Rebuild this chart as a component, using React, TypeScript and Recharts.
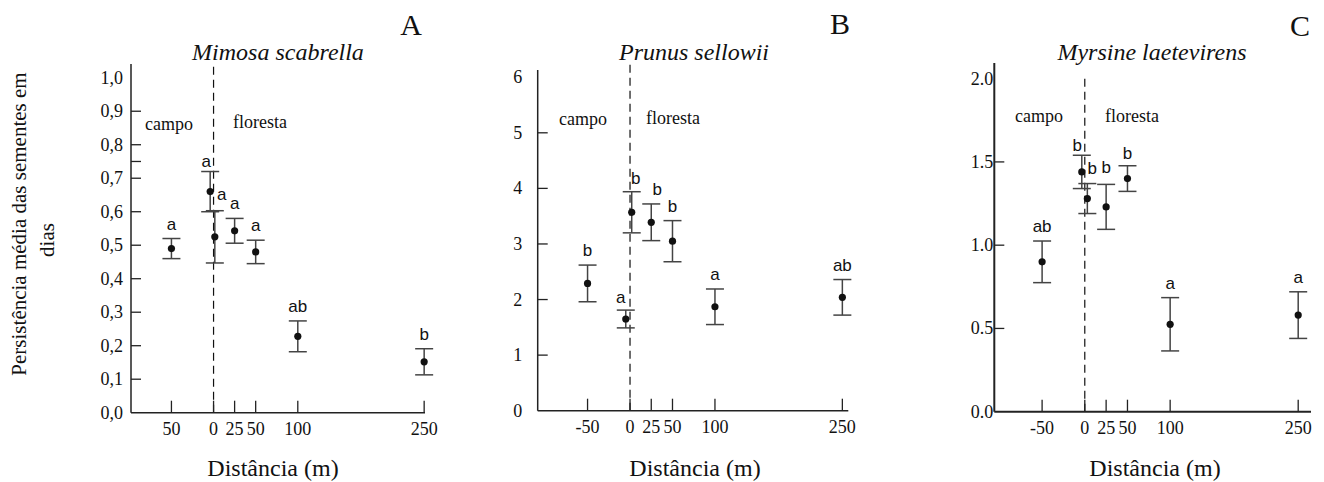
import React from 'react';
import { ScatterChart, Scatter, XAxis, YAxis, ErrorBar, ReferenceLine } from 'recharts';

const SERIF = '"Liberation Serif", "Times New Roman", serif';
const SANS = '"Liberation Sans", Arial, sans-serif';

// distância à borda (m): negativo = campo, positivo = floresta
const distA = [-50, -4, 1.5, 25, 50, 100, 250];
const meanA = [0.49, 0.66, 0.525, 0.543, 0.48, 0.228, 0.152];
const errA = [0.03, 0.06, 0.078, 0.037, 0.035, 0.046, 0.039];
const lettersA = ['a', 'a', 'a', 'a', 'a', 'ab', 'b'];

const distB = [-50, -5, 2, 25, 50, 100, 250];
const meanB = [2.29, 1.65, 3.57, 3.39, 3.05, 1.87, 2.04];
const errB = [0.33, 0.16, 0.37, 0.33, 0.37, 0.32, 0.32];
const lettersB = ['b', 'a', 'b', 'b', 'b', 'a', 'ab'];

const distC = [-50, -3.5, 3, 25, 50, 100, 250];
const meanC = [0.9, 1.44, 1.28, 1.23, 1.4, 0.525, 0.58];
const errC = [0.125, 0.1, 0.09, 0.135, 0.077, 0.16, 0.14];
const lettersC = ['ab', 'b', 'b', 'b', 'b', 'a', 'a'];

const xTicks = [-50, 0, 25, 50, 100, 250];
const yTicksA = [0, 0.1, 0.2, 0.3, 0.4, 0.5, 0.6, 0.7, 0.75, 0.8, 0.9, 1.0];
const yTicksB = [0, 1, 2, 3, 4, 5, 6];
const yTicksC = [0, 0.5, 1.0, 1.5, 2.0];

const titles = ['Mimosa scabrella', 'Prunus sellowii', 'Myrsine laetevirens'];
const panelLetters = ['A', 'B', 'C'];

const YW = 40; // largura reservada do eixo y
const XH = 30; // altura reservada do eixo x

const panels = [
  {
    left: 0, width: 440, plot: { top: 64, right: 425, bottom: 412.7, left: 131 },
    xDomain: [-98, 251], yDomain: [0, 1.041], dashTop: 1.038,
    dist: distA, mean: meanA, err: errA, letters: lettersA, yTicks: yTicksA,
    fmtX: (v: number) => String(Math.abs(v)),
    fmtY: (v: number) => (v === 0.75 ? '' : v.toFixed(1).replace('.', ',')),
    yAnchor: 'end', yDx: -8, axisW: 1.5,
    nudge: { 1: [-4, 4], 2: [7, -2] } as Record<number, number[]>,
  },
  {
    left: 440, width: 440, plot: { top: 70, right: 848.3, bottom: 410.7, left: 537.7 },
    xDomain: [-108.7, 257], yDomain: [0, 6.13], dashTop: 6.25,
    dist: distB, mean: meanB, err: errB, letters: lettersB, yTicks: yTicksB,
    fmtX: (v: number) => String(v),
    fmtY: (v: number) => String(v),
    yAnchor: 'middle', yDx: -20, axisW: 1.5,
    nudge: { 1: [-5, 2], 2: [4, 1], 3: [6, 0] } as Record<number, number[]>,
  },
  {
    left: 880, width: 444, plot: { top: 63, right: 1311, bottom: 411.7, left: 994.3 },
    xDomain: [-106, 265], yDomain: [0, 2.094], dashTop: 2.016,
    dist: distC, mean: meanC, err: errC, letters: lettersC, yTicks: yTicksC,
    fmtX: (v: number) => String(v),
    fmtY: (v: number) => v.toFixed(1),
    yAnchor: 'end', yDx: -1, axisW: 2,
    nudge: { 1: [-4.5, 5], 2: [5, -1], 3: [0, -2], 4: [0, 2] } as Record<number, number[]>,
  },
];

// texto sobreposto: letra do painel, título, campo/floresta, rótulo do eixo x
const overlay = [
  { letter: [411, 35], title: [278, 60], campo: [169, 130], floresta: [260, 128], xlab: [273, 476] },
  { letter: [840, 34], title: [694, 60], campo: [583, 125], floresta: [673, 124], xlab: [695, 476] },
  { letter: [1300, 36], title: [1152, 60], campo: [1039, 122], floresta: [1132, 122], xlab: [1155, 476] },
];

function Panel({ p }: { p: any }) {
  const pts = p.dist.map((d: number, i: number) => ({ x: d, y: p.mean[i], err: p.err[i] }));
  const tops = p.dist.map((d: number, i: number) => ({ x: d, y: p.mean[i] + p.err[i], letter: p.letters[i], i }));
  const yMax = p.yTicks[p.yTicks.length - 1];
  const margin = {
    top: p.plot.top,
    left: p.plot.left - p.left - YW,
    right: p.left + p.width - p.plot.right,
    bottom: 482 - p.plot.bottom - XH,
  };

  const xTick = (props: any) => {
    const { x, y, payload } = props;
    return (
      <g>
        <line x1={x} x2={x} y1={y} y2={y - 12} stroke="#222" strokeWidth={1.3} />
        <text x={x} y={y + 22} textAnchor="middle" fontFamily={SERIF} fontSize={18} fill="#111">
          {p.fmtX(payload.value)}
        </text>
      </g>
    );
  };

  const yTick = (props: any) => {
    const { x, y, payload } = props;
    const v = payload.value;
    const mark = v !== 0 && v !== yMax;
    return (
      <g>
        {mark && <line x1={x} x2={x + 10} y1={y} y2={y} stroke="#222" strokeWidth={1.3} />}
        <text x={x + p.yDx} y={y + 6} textAnchor={p.yAnchor} fontFamily={SERIF} fontSize={18} fill="#111">
          {p.fmtY(v)}
        </text>
      </g>
    );
  };

  return (
    <div style={{ position: 'absolute', left: p.left, top: 0 }}>
      <ScatterChart width={p.width} height={482} margin={margin}>
        <XAxis
          type="number" dataKey="x" domain={p.xDomain} ticks={xTicks} interval={0}
          height={XH} tickSize={0} tickMargin={0} tickLine={false}
          axisLine={{ stroke: '#222', strokeWidth: p.axisW }} tick={xTick}
        />
        <YAxis
          type="number" dataKey="y" domain={p.yDomain} ticks={p.yTicks} interval={0}
          width={YW} tickSize={0} tickMargin={0} tickLine={false}
          axisLine={{ stroke: '#222', strokeWidth: p.axisW }} tick={yTick}
        />
        <ReferenceLine
          segment={[{ x: 0, y: 0 }, { x: 0, y: p.dashTop }]} ifOverflow="visible"
          stroke="#111" strokeWidth={1.2} strokeDasharray="8 5"
        />
        <Scatter
          data={pts} isAnimationActive={false}
          shape={(s: any) => <circle cx={s.cx} cy={s.cy} r={3.6} fill="#111" />}
        >
          <ErrorBar dataKey="err" direction="y" width={9} stroke="#444" strokeWidth={1.5} />
        </Scatter>
        <Scatter
          data={tops} isAnimationActive={false}
          shape={(s: any) => {
            const n = p.nudge[s.payload.i] || [0, 0];
            return (
              <text x={s.cx + n[0]} y={s.cy - 9 + n[1]} textAnchor="middle" fontFamily={SANS} fontSize={17} fill="#111">
                {s.payload.letter}
              </text>
            );
          }}
        />
      </ScatterChart>
    </div>
  );
}

export default function App() {
  return (
    <div style={{ position: 'absolute', left: 0, top: 0, width: 1324, height: 482, background: '#fff' }}>
      {panels.map((p, i) => (
        <Panel key={i} p={p} />
      ))}
      <svg width={1324} height={482} style={{ position: 'absolute', left: 0, top: 0, pointerEvents: 'none' }}>
        <text transform="translate(26,224) rotate(-90)" textAnchor="middle" fontFamily={SERIF} fontSize={21} fill="#111">
          Persistência média das sementes em
        </text>
        <text transform="translate(54,240) rotate(-90)" textAnchor="middle" fontFamily={SERIF} fontSize={21} fill="#111">
          dias
        </text>
        {overlay.map((o, i) => (
          <g key={i} fontFamily={SERIF} fill="#111">
            <text x={o.letter[0]} y={o.letter[1]} textAnchor="middle" fontSize={30}>{panelLetters[i]}</text>
            <text x={o.title[0]} y={o.title[1]} textAnchor="middle" fontSize={24} fontStyle="italic">{titles[i]}</text>
            <text x={o.campo[0]} y={o.campo[1]} textAnchor="middle" fontSize={18}>campo</text>
            <text x={o.floresta[0]} y={o.floresta[1]} textAnchor="middle" fontSize={18}>floresta</text>
            <text x={o.xlab[0]} y={o.xlab[1]} textAnchor="middle" fontSize={24}>Distância (m)</text>
          </g>
        ))}
      </svg>
    </div>
  );
}
